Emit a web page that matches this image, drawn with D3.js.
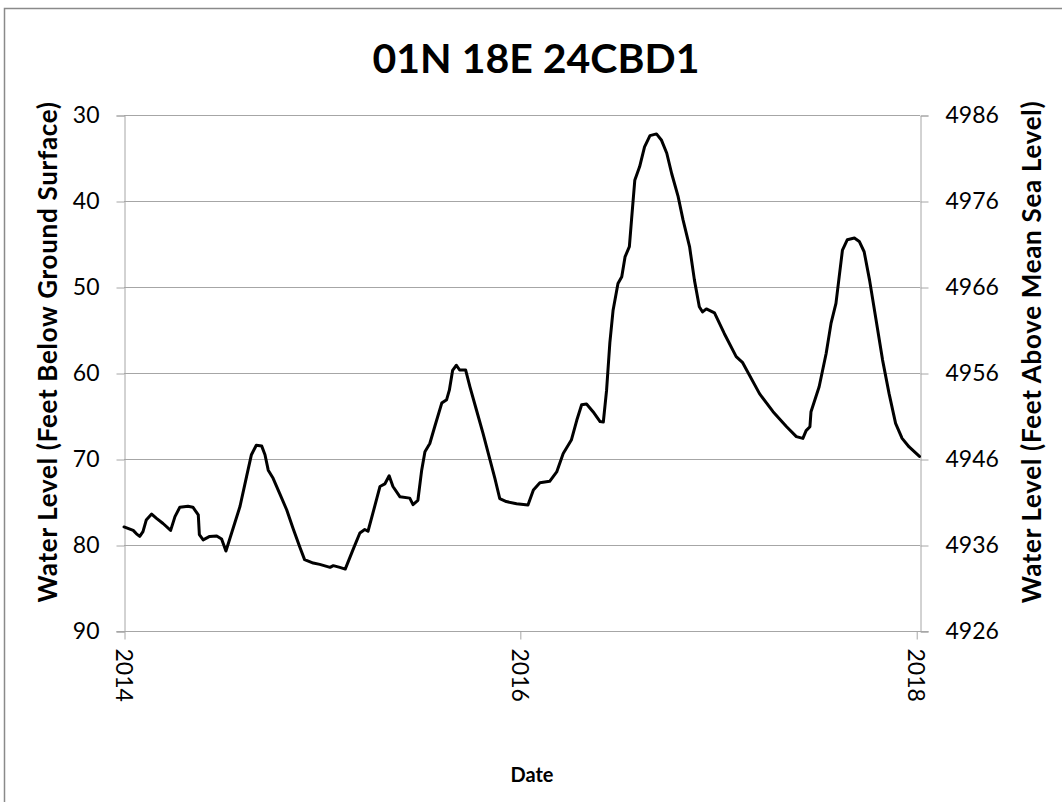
<!DOCTYPE html>
<html>
<head>
<meta charset="utf-8">
<script src="https://cdn.jsdelivr.net/npm/d3@7/dist/d3.min.js"></script>
<style>
  html, body { margin: 0; padding: 0; background: #fff; }
  svg { display: block; }
  text { font-family: Lato, "Open Sans", sans-serif; fill: #000; }
</style>
</head>
<body>
<svg id="chart" width="1062" height="802"></svg>
<script>
// ---- data ----
const title = "01N 18E 24CBD1";
const leftAxisTitle = "Water Level (Feet Below Ground Surface)";
const rightAxisTitle = "Water Level (Feet Above Mean Sea Level)";
const xAxisTitle = "Date";
const leftTicks = [30, 40, 50, 60, 70, 80, 90];
const rightTicks = [4986, 4976, 4966, 4956, 4946, 4936, 4926];
const xTickLabels = ["2014", "2016", "2018"];

const dates = [
  "2014-01-01","2014-01-18","2014-01-24","2014-01-30","2014-02-05","2014-02-11","2014-02-21","2014-03-02",
  "2014-03-14","2014-03-28","2014-04-05","2014-04-14","2014-04-29","2014-05-08","2014-05-18","2014-05-20",
  "2014-05-27","2014-06-08","2014-06-21","2014-06-30","2014-07-08","2014-07-15","2014-07-24","2014-08-03",
  "2014-08-15","2014-08-24","2014-09-02","2014-09-12","2014-09-18","2014-09-24","2014-10-03","2014-10-15",
  "2014-10-28","2014-11-09","2014-11-21","2014-11-30","2014-12-16","2014-12-28","2015-01-16","2015-01-22",
  "2015-02-03","2015-02-13","2015-02-27","2015-03-12","2015-03-21","2015-03-27","2015-04-05","2015-04-18",
  "2015-04-27","2015-05-05","2015-05-12","2015-05-25","2015-06-12","2015-06-18","2015-06-27","2015-07-04",
  "2015-07-10","2015-07-19","2015-07-28","2015-08-10","2015-08-19","2015-08-24","2015-08-30","2015-09-06",
  "2015-09-12","2015-09-23","2015-10-01","2015-10-13","2015-10-25","2015-11-07","2015-11-16","2015-11-25",
  "2015-12-07","2015-12-26","2016-01-16","2016-01-26","2016-02-07","2016-02-25","2016-03-09","2016-03-21",
  "2016-04-05","2016-04-15","2016-04-24","2016-05-03","2016-05-15","2016-05-28","2016-06-03","2016-06-09",
  "2016-06-15","2016-06-21","2016-06-30","2016-07-07","2016-07-13","2016-07-21","2016-07-25","2016-07-31",
  "2016-08-09","2016-08-18","2016-08-28","2016-09-09","2016-09-18","2016-09-28","2016-10-07","2016-10-19",
  "2016-10-28","2016-11-09","2016-11-18","2016-11-27","2016-12-03","2016-12-10","2016-12-25","2017-01-12",
  "2017-02-03","2017-02-15","2017-03-18","2017-04-12","2017-05-07","2017-05-25","2017-06-06","2017-06-12",
  "2017-06-19","2017-06-21","2017-07-06","2017-07-19","2017-07-28","2017-08-06","2017-08-12","2017-08-18",
  "2017-08-27","2017-09-09","2017-09-18","2017-09-27","2017-10-07","2017-10-19","2017-10-31","2017-11-12",
  "2017-11-24","2017-12-06","2017-12-19","2018-01-07"
];
const depthBelowSurface = [
  77.9, 78.3, 78.7, 79.0, 78.45, 77.1, 76.4, 76.9,
  77.5, 78.3, 76.7, 75.6, 75.5, 75.6, 76.5, 78.8,
  79.4, 79.0, 78.95, 79.3, 80.7, 79.3, 77.5, 75.5,
  72.05, 69.5, 68.4, 68.5, 69.5, 71.3, 72.25, 74.0,
  75.9, 78.1, 80.2, 81.7, 82.1, 82.25, 82.6, 82.4,
  82.6, 82.8, 80.6, 78.6, 78.2, 78.4, 76.3, 73.2,
  72.9, 71.95, 73.2, 74.4, 74.55, 75.3, 74.8, 71.3,
  69.15, 68.2, 66.25, 63.5, 63.1, 62.0, 59.7, 59.1,
  59.65, 59.65, 61.6, 64.3, 67.0, 70.1, 72.25, 74.6,
  74.95, 75.2, 75.35, 73.6, 72.75, 72.6, 71.5, 69.35,
  67.8, 65.5, 63.7, 63.6, 64.5, 65.65, 65.7, 62.0,
  56.5, 52.7, 49.6, 48.8, 46.5, 45.3, 42.2, 37.6,
  36.0, 33.7, 32.4, 32.2, 32.9, 34.45, 36.8, 39.5,
  42.2, 45.3, 49.2, 52.3, 52.9, 52.55, 53.0, 55.4,
  58.1, 58.8, 62.4, 64.5, 66.25, 67.4, 67.6, 66.7,
  66.25, 64.5, 61.6, 57.7, 54.2, 51.9, 48.8, 45.7,
  44.5, 44.3, 44.7, 45.9, 49.2, 53.85, 58.5, 62.4,
  65.85, 67.6, 68.6, 69.7
];

// ---- layout ----
const W = 1062, H = 802;
const plot = { left: 124, right: 920, top: 115, bottom: 631 };
const parse = d3.timeParse("%Y-%m-%d");
const data = dates.map((d, i) => ({ date: parse(d), depth: depthBelowSurface[i] }));

const svg = d3.select("#chart");

// outer chart border
svg.append("rect")
  .attr("x", 4.5).attr("y", 8.5)
  .attr("width", W + 20).attr("height", H + 20)
  .attr("fill", "#fff").attr("stroke", "#8a8a8a").attr("stroke-width", 1.5);

const x = d3.scaleTime()
  .domain([parse("2014-01-01"), parse("2018-01-08")])
  .range([plot.left, plot.right]);
const yL = d3.scaleLinear().domain([30, 90]).range([plot.top, plot.bottom]);
const yR = d3.scaleLinear().domain([4986, 4926]).range([plot.top, plot.bottom]);

const gridColor = "#a6a6a6";

// horizontal gridlines
svg.append("g").selectAll("line").data(leftTicks).join("line")
  .attr("x1", plot.left).attr("x2", plot.right)
  .attr("y1", d => Math.round(yL(d)) + 0.5).attr("y2", d => Math.round(yL(d)) + 0.5)
  .attr("stroke", gridColor).attr("stroke-width", 1);

// left axis
const leftAxis = d3.axisLeft(yL).tickValues(leftTicks).tickSize(8).tickPadding(17).tickFormat(d3.format("d"));
const gL = svg.append("g").attr("transform", `translate(${plot.left + 0.5},0.5)`).call(leftAxis);
// right axis
const rightAxis = d3.axisRight(yR).tickValues(rightTicks).tickSize(8).tickPadding(17).tickFormat(d3.format("d"));
const gR = svg.append("g").attr("transform", `translate(${plot.right + 0.5},0.5)`).call(rightAxis);

[gL, gR].forEach(g => {
  g.select(".domain").attr("stroke", gridColor);
  g.selectAll(".tick line").attr("stroke", gridColor);
  g.selectAll(".tick text").style("font-family", "Lato, 'Open Sans', sans-serif")
    .style("font-size", "23px").attr("fill", "#000");
});

// bottom axis
const xTickDates = xTickLabels.map(s => parse(s + "-01-01"));
const bottomAxis = d3.axisBottom(x).tickValues(xTickDates).tickSize(8).tickFormat(d3.timeFormat("%Y"));
const gB = svg.append("g").attr("transform", `translate(0.5,${plot.bottom + 0.5})`).call(bottomAxis);
gB.select(".domain").attr("d", `M${plot.left - 8},0H${plot.right + 8}`).attr("stroke", gridColor);
gB.selectAll(".tick line").attr("stroke", gridColor);
gB.selectAll(".tick text")
  .style("font-family", "Lato, 'Open Sans', sans-serif").style("font-size", "23px").attr("fill", "#000")
  .attr("text-anchor", "start").attr("dy", null).attr("y", 0)
  .attr("dominant-baseline", "central")
  .attr("transform", "translate(0,17) rotate(90)");

// line
const line = d3.line().x(d => x(d.date)).y(d => yL(d.depth)).curve(d3.curveLinear);
svg.append("path").datum(data)
  .attr("d", line).attr("fill", "none").attr("stroke", "#000")
  .attr("stroke-width", 3).attr("stroke-linejoin", "round").attr("stroke-linecap", "round");

// titles
svg.append("text").attr("x", 536).attr("y", 73).attr("text-anchor", "middle")
  .style("font-size", "41px").style("font-weight", "bold").text(title);

svg.append("text").attr("transform", "translate(57,352) rotate(-90)")
  .attr("text-anchor", "middle")
  .style("font-size", "26px").style("font-weight", "bold").style("letter-spacing", "0.7px")
  .text(leftAxisTitle);

svg.append("text").attr("transform", "translate(1041,352) rotate(-90)")
  .attr("text-anchor", "middle")
  .style("font-size", "26px").style("font-weight", "bold").style("letter-spacing", "0.7px")
  .text(rightAxisTitle);

svg.append("text").attr("x", 532).attr("y", 782).attr("text-anchor", "middle")
  .style("font-size", "20px").style("font-weight", "bold").text(xAxisTitle);
</script>
</body>
</html>
